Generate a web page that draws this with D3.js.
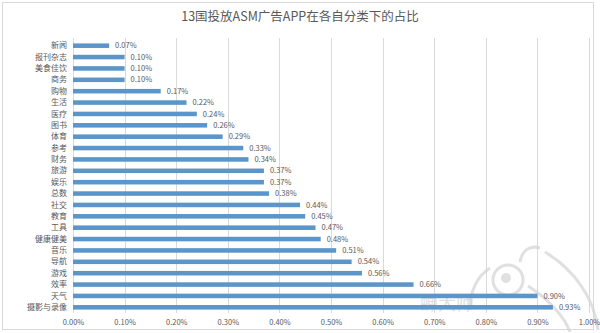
<!DOCTYPE html>
<html><head><meta charset="utf-8">
<script src="https://cdn.jsdelivr.net/npm/d3@7"></script>
<style>body{margin:0;background:#fff}svg{display:block}</style>
</head><body>
<script>
const categories = ["新闻","报刊杂志","美食佳饮","商务","购物","生活","医疗","图书","体育","参考","财务","旅游","娱乐","总数","社交","教育","工具","健康健美","音乐","导航","游戏","效率","天气","摄影与录像"];
const values = [0.0007,0.0010,0.0010,0.0010,0.0017,0.0022,0.0024,0.0026,0.0029,0.0033,0.0034,0.0037,0.0037,0.0038,0.0044,0.0045,0.0047,0.0048,0.0051,0.0054,0.0056,0.0066,0.0090,0.0093];
const tickValues = [0,0.001,0.002,0.003,0.004,0.005,0.006,0.007,0.008,0.009,0.010];
const title = "13国投放ASM广告APP在各自分类下的占比";

const W=600,H=333;
const svg=d3.select("body").append("svg").attr("width",W).attr("height",H);
const font="'Noto Sans CJK SC','Noto Sans',sans-serif";
svg.append("rect").attr("x",2.5).attr("y",2.5).attr("width",591).attr("height",327).attr("fill","#fff").attr("stroke","#d9d9d9");

const x=d3.scaleLinear().domain([0,0.01]).range([73,589]);
const y=d3.scaleBand().domain(categories).range([40,313]).paddingInner(0.6).paddingOuter(0.3);

// gridlines
svg.append("g").selectAll("line").data(tickValues).join("line")
  .attr("x1",d=>Math.round(x(d))+0.5).attr("x2",d=>Math.round(x(d))+0.5).attr("y1",38).attr("y2",313)
  .attr("stroke","#d9d9d9").attr("stroke-width",1);

// watermark
const wm=svg.append("g").attr("fill","none").attr("stroke","#d4d4d4").attr("stroke-width",3).attr("opacity",0.7);
wm.append("circle").attr("cx",508).attr("cy",280).attr("r",15);
wm.append("circle").attr("cx",506).attr("cy",278).attr("r",3.5).attr("fill","#d4d4d4");
wm.append("path").attr("d","M520,262 C522,250 530,245 540,248");
wm.append("path").attr("d","M545,252 C575,270 595,300 598,330");
wm.append("path").attr("d","M490,268 C478,276 470,290 470,310");
wm.append("path").attr("d","M528,286 C550,300 565,318 570,332");
svg.append("text").attr("x",447).attr("y",310).attr("text-anchor","middle")
  .attr("font-family",font).attr("font-size",18).attr("fill","#d4d4d4").attr("opacity",0.7).text("蝉大师");

// left axis line
svg.append("line").attr("x1",73.5).attr("x2",73.5).attr("y1",38).attr("y2",313).attr("stroke","#d9d9d9");

// bars
svg.append("g").selectAll("rect").data(values).join("rect")
  .attr("x",x(0)).attr("y",(d,i)=>y(categories[i])).attr("width",d=>x(d)-x(0))
  .attr("height",y.bandwidth()).attr("fill","#5b95c9");

// value labels
svg.append("g").selectAll("text").data(values).join("text")
  .attr("x",d=>x(d)+6).attr("y",(d,i)=>y(categories[i])+y.bandwidth()/2)
  .attr("dy","0.35em").attr("font-family",font).attr("font-size",7.5).attr("fill","#595959")
  .text(d=>d3.format(".2%")(d));

// y axis labels
const ya=svg.append("g").attr("transform","translate(73,0)")
  .call(d3.axisLeft(y).tickSize(0).tickPadding(6));
ya.select(".domain").remove();
ya.selectAll("text").attr("font-family",font).attr("font-size",8).attr("fill","#595959");

// x axis
const xa=svg.append("g").attr("transform","translate(0,313)")
  .call(d3.axisBottom(x).tickValues(tickValues).tickSize(0).tickPadding(7).tickFormat(d3.format(".2%")));
xa.select(".domain").remove();
xa.selectAll("text").attr("font-family",font).attr("font-size",7.5).attr("fill","#595959");

// title
svg.append("text").attr("x",300).attr("y",21).attr("text-anchor","middle")
  .attr("font-family",font).attr("font-size",12.5).attr("fill","#595959").text(title);
</script>
</body></html>
